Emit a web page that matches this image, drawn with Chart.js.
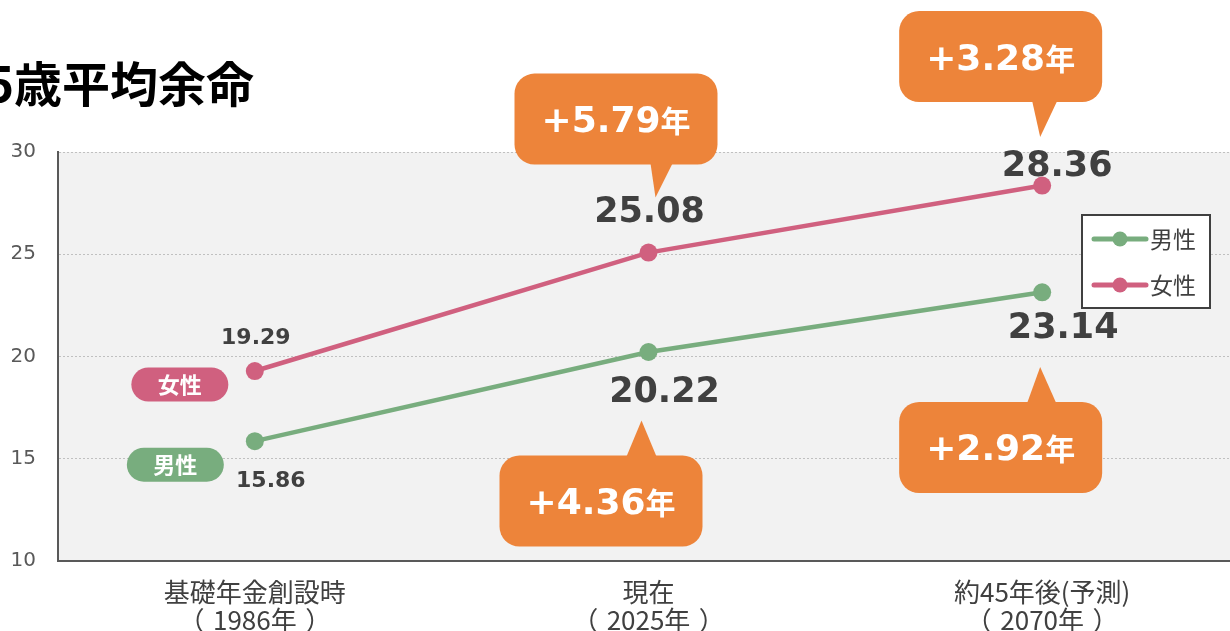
<!DOCTYPE html>
<html>
<head>
<meta charset="utf-8">
<script src="https://cdn.jsdelivr.net/npm/chart.js@4.4.0/dist/chart.umd.min.js"></script>
<style>
html, body { margin: 0; padding: 0; background: #fff; overflow: hidden; width: 1230px; height: 631px; }
#wrap { position: relative; width: 1239px; height: 631px; }
</style>
</head>
<body>
<div id="wrap"><canvas id="lifeChart" width="1239" height="631" lang="ja"></canvas></div>
<script>
const categories = [["基礎年金創設時", "（1986年）"], ["現在", "（2025年）"], ["約45年後(予測)", "（2070年）"]];
const maleValues = [15.86, 20.22, 23.14];
const femaleValues = [19.29, 25.08, 28.36];
const yTicks = [10, 15, 20, 25, 30];
const titleText = "65歳平均余命";

const GREEN = "#78ad7e";
const PINK = "#d0607f";
const ORANGE = "#ed843a";
const DARK = "#404040";
const JP = "'Noto Sans CJK JP', sans-serif";
const NUM = "'DejaVu Sans', 'Noto Sans CJK JP', sans-serif";

// label offsets from each point [dx, dy, font size]
const labelPos = {
    0: [[16, 40, 22], [16, 41, 35], [21, 37, 35]],
    1: [[1, -33, 22], [1, -40, 35], [15, -19, 35]]
};

// speech bubbles: dataset, index, tip offset from point, box placement from tip
const bubbles = [
    { ds: 1, i: 1, tip: [7, -55], cx: -39.5, gap: -33, base: [-5, 17] },
    { ds: 1, i: 2, tip: [-2, -48.5], cx: -39.5, gap: -35, base: [-8, 17] },
    { ds: 0, i: 1, tip: [-7, 68.6], cx: -40.5, gap: 35, base: [-15, 15] },
    { ds: 0, i: 2, tip: [-2, 74.7], cx: -39.5, gap: 35, base: [-13, 16] }
];

const plotBg = {
    id: 'plotBg',
    beforeDraw(chart) {
        const { ctx, chartArea: a } = chart;
        ctx.save();
        ctx.fillStyle = "#f2f2f2";
        ctx.fillRect(a.left, a.top, a.right - a.left, a.bottom - a.top);
        ctx.restore();
    }
};

function drawBubble(ctx, b, pt, text) {
    const tx = pt.x + b.tip[0], ty = pt.y + b.tip[1];
    const w = 203, h = 91;
    const left = tx + b.cx - w / 2;
    const top = b.gap < 0 ? ty + b.gap - h : ty + b.gap;
    const edge = b.gap < 0 ? top + h - 1 : top + 1;
    ctx.fillStyle = ORANGE;
    ctx.beginPath();
    ctx.roundRect(left, top, w, h, 20);
    ctx.fill();
    ctx.beginPath();
    ctx.moveTo(tx + b.base[0], edge);
    ctx.lineTo(tx, ty);
    ctx.lineTo(tx + b.base[1], edge);
    ctx.closePath();
    ctx.fill();

    ctx.fillStyle = "#fff";
    ctx.textBaseline = "alphabetic";
    ctx.textAlign = "left";
    ctx.font = "bold 36px " + NUM;
    const w1 = ctx.measureText(text).width;
    ctx.font = "bold 30px " + JP;
    const w2 = ctx.measureText("年").width;
    const x0 = left + w / 2 - (w1 + w2) / 2;
    const base = top + h / 2 + 13;
    ctx.font = "bold 36px " + NUM;
    ctx.fillText(text, x0, base);
    ctx.font = "bold 30px " + JP;
    ctx.fillText("年", x0 + w1, base);
}

function drawPill(ctx, cx, cy, color, text) {
    ctx.fillStyle = color;
    ctx.beginPath();
    ctx.roundRect(cx - 48.5, cy - 17, 97, 34, 17);
    ctx.fill();
    ctx.fillStyle = "#fff";
    ctx.font = "bold 22px " + JP;
    ctx.textAlign = "center";
    ctx.textBaseline = "alphabetic";
    ctx.fillText(text, cx, cy + 8.5);
}

// one line of a category label; full-width brackets get a whole em with the ink centred
function drawCatLine(ctx, str, cx, cy, em) {
    const chars = Array.from(str);
    const full = c => c === "（" || c === "）";
    const widths = chars.map(c => full(c) ? em : ctx.measureText(c).width);
    let x = cx - widths.reduce((a, b) => a + b, 0) / 2;
    ctx.textAlign = "left";
    chars.forEach((c, i) => {
        if (full(c)) {
            const m = ctx.measureText(c);
            const inkL = m.actualBoundingBoxLeft, inkR = m.actualBoundingBoxRight;
            ctx.fillText(c, x + em / 2 - (inkR - inkL) / 2, cy);
        } else {
            ctx.fillText(c, x, cy);
        }
        x += widths[i];
    });
}

const catLabels = {
    id: 'catLabels',
    afterDraw(chart) {
        const ctx = chart.ctx;
        const xs = chart.scales.x;
        ctx.save();
        ctx.fillStyle = DARK;
        ctx.font = "26px " + JP;
        ctx.textBaseline = "middle";
        chart.data.labels.forEach((lines, i) => {
            const px = xs.getPixelForTick(i);
            lines.forEach((s, j) => drawCatLine(ctx, s, px, xs.top + 31 + j * 28, 26));
        });
        ctx.restore();
    }
};

const annotations = {
    id: 'annotations',
    afterDatasetsDraw(chart) {
        const ctx = chart.ctx;
        const ds = chart.data.datasets;
        ctx.save();

        // value labels
        ds.forEach((d, k) => {
            chart.getDatasetMeta(k).data.forEach((p, i) => {
                const [dx, dy, size] = labelPos[k][i];
                ctx.fillStyle = DARK;
                ctx.font = "bold " + size + "px " + NUM;
                ctx.textAlign = "center";
                ctx.textBaseline = "middle";
                ctx.fillText(d.data[i].toFixed(2), p.x + dx, p.y + dy);
            });
        });

        // bubbles with the increase since the previous point
        bubbles.forEach(b => {
            const vals = ds[b.ds].data;
            const diff = "+" + (vals[b.i] - vals[b.i - 1]).toFixed(2);
            drawBubble(ctx, b, chart.getDatasetMeta(b.ds).data[b.i], diff);
        });

        // series tags left of first points
        const m0 = chart.getDatasetMeta(0).data[0];
        const f0 = chart.getDatasetMeta(1).data[0];
        drawPill(ctx, f0.x - 75, f0.y + 13.5, PINK, ds[1].label);
        drawPill(ctx, m0.x - 79.5, m0.y + 23.5, GREEN, ds[0].label);

        // legend
        ctx.fillStyle = "#fff";
        ctx.fillRect(1082, 215, 128, 93);
        ctx.strokeStyle = DARK;
        ctx.lineWidth = 2;
        ctx.strokeRect(1082, 215, 128, 93);
        ds.forEach((d, k) => {
            const y = 239 + k * 46;
            ctx.strokeStyle = d.borderColor;
            ctx.lineWidth = 5;
            ctx.lineCap = "round";
            ctx.beginPath();
            ctx.moveTo(1094, y);
            ctx.lineTo(1146, y);
            ctx.stroke();
            ctx.fillStyle = d.borderColor;
            ctx.beginPath();
            ctx.arc(1120, y, 7.5, 0, Math.PI * 2);
            ctx.fill();
            ctx.fillStyle = DARK;
            ctx.font = "23px " + JP;
            ctx.textAlign = "left";
            ctx.textBaseline = "alphabetic";
            ctx.fillText(d.label, 1150, y + 9);
        });

        // title (runs off the left edge)
        ctx.fillStyle = "#000";
        ctx.font = "bold 48px " + JP;
        ctx.textAlign = "right";
        ctx.textBaseline = "alphabetic";
        ctx.fillText(titleText, 254, 102);

        ctx.restore();
    }
};

new Chart("lifeChart", {
    type: "line",
    data: {
        labels: categories,
        datasets: [{
            label: "男性",
            data: maleValues,
            borderColor: GREEN,
            backgroundColor: GREEN,
            borderWidth: 4.5,
            pointRadius: 9,
            pointBorderWidth: 0,
            pointBackgroundColor: GREEN
        }, {
            label: "女性",
            data: femaleValues,
            borderColor: PINK,
            backgroundColor: PINK,
            borderWidth: 4.5,
            pointRadius: 9,
            pointBorderWidth: 0,
            pointBackgroundColor: PINK
        }]
    },
    options: {
        responsive: false,
        animation: false,
        devicePixelRatio: 1,
        layout: { autoPadding: false, padding: { top: 152, left: 0, right: 0, bottom: 0 } },
        plugins: {
            legend: { display: false },
            tooltip: { enabled: false },
            title: { display: false }
        },
        scales: {
            x: {
                offset: true,
                grid: { display: false, drawTicks: false },
                border: { display: true, color: "#595959", width: 2 },
                ticks: { display: false },
                afterFit: s => { s.height = 70; }
            },
            y: {
                min: 10,
                max: 30,
                afterBuildTicks: s => { s.ticks = yTicks.map(v => ({ value: v })); },
                grid: { color: "#c0c0c0", lineWidth: 1, drawTicks: false },
                border: { display: true, color: "#595959", width: 2, dash: [2, 2] },
                ticks: {
                    color: "#595959",
                    font: { family: "'DejaVu Sans'", size: 20 },
                    padding: 22
                },
                afterFit: s => { s.width = 58; }
            }
        }
    },
    plugins: [plotBg, annotations, catLabels]
});
</script>
</body>
</html>
